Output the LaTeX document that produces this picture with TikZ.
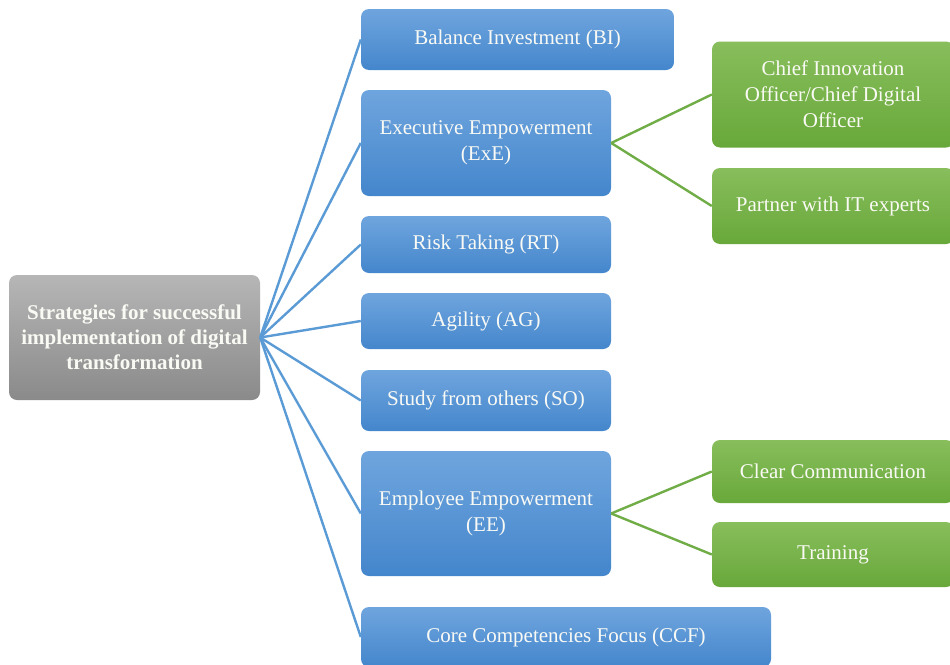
\documentclass[tikz,border=0pt]{standalone}
\usepackage{fontspec}
\setmainfont{Liberation Serif}
\definecolor{bluetop}{RGB}{111,165,222}
\definecolor{bluebot}{RGB}{68,134,204}
\definecolor{greentop}{RGB}{136,190,92}
\definecolor{greenbot}{RGB}{104,168,58}
\definecolor{graytop}{RGB}{182,182,182}
\definecolor{graybot}{RGB}{138,138,138}
\definecolor{blueline}{RGB}{91,155,213}
\definecolor{greenline}{RGB}{112,173,71}
\definecolor{txt}{RGB}{250,250,245}
\tikzset{
  box/.style={rounded corners=8pt, inner sep=0pt, align=center, text=txt,
    font=\fontsize{21}{26}\selectfont},
  bluebox/.style={box, top color=bluetop, bottom color=bluebot},
  greenbox/.style={box, top color=greentop, bottom color=greenbot},
  graybox/.style={box, top color=graytop, bottom color=graybot,
    font=\fontsize{21}{25}\selectfont\bfseries},
  bline/.style={draw=blueline, line width=2.4pt},
  gline/.style={draw=greenline, line width=2.4pt},
}
\begin{document}
\begin{tikzpicture}[x=1pt,y=-1pt]
\clip (0,0) rectangle (950,664);
\fill[white] (0,0) rectangle (950,664);
\node[graybox, minimum width=251pt, minimum height=125pt] (root) at (134.5,337.5)
  {Strategies for successful\\implementation of digital\\transformation};
\node[bluebox, minimum width=313pt, minimum height=61pt] (bi) at (517.5,39.5) {Balance Investment (BI)};
\node[bluebox, minimum width=250pt, minimum height=106pt] (exe) at (486,143) {Executive Empowerment\\(ExE)};
\node[bluebox, minimum width=250pt, minimum height=57pt] (rt) at (486,244.5) {Risk Taking (RT)};
\node[bluebox, minimum width=250pt, minimum height=56pt] (ag) at (486,321) {Agility (AG)};
\node[bluebox, minimum width=250pt, minimum height=61pt] (so) at (486,400.5) {Study from others (SO)};
\node[bluebox, minimum width=250pt, minimum height=125pt] (ee) at (486,513.5) {Employee Empowerment\\(EE)};
\node[bluebox, minimum width=410pt, minimum height=60pt] (ccf) at (566,637) {Core Competencies Focus (CCF)};
\node[greenbox, minimum width=242pt, minimum height=106pt] (cio) at (833,94.5) {Chief Innovation\\Officer/Chief Digital\\Officer};
\node[greenbox, minimum width=242pt, minimum height=76pt] (pit) at (833,206) {Partner with IT experts};
\node[greenbox, minimum width=242pt, minimum height=63pt] (cc) at (833,471.5) {Clear Communication};
\node[greenbox, minimum width=242pt, minimum height=65pt] (tr) at (833,554.5) {Training};
\foreach \n in {bi,exe,rt,ag,so,ee,ccf}{\draw[bline] (root.east) -- (\n.west);}
\draw[gline] (exe.east) -- (cio.west);
\draw[gline] (exe.east) -- (pit.west);
\draw[gline] (ee.east) -- (cc.west);
\draw[gline] (ee.east) -- (tr.west);
\end{tikzpicture}
\end{document}
